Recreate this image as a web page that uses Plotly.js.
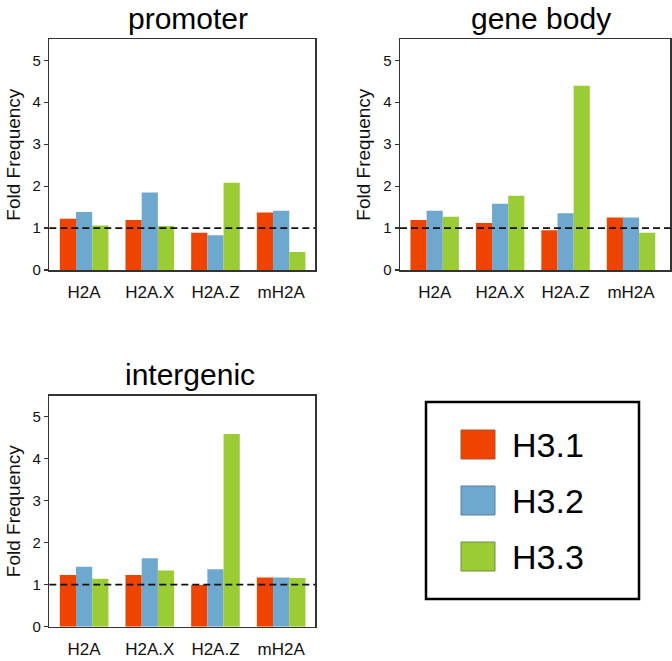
<!DOCTYPE html>
<html>
<head>
<meta charset="utf-8">
<script src="https://cdn.plot.ly/plotly-3.0.1.min.js"></script>
<style>html,body{margin:0;padding:0;background:#fff;}#chart{width:672px;height:661px;}</style>
</head>
<body>
<div id="chart"></div>
<script>
// ---- data ----
const categories = ['H2A', 'H2A.X', 'H2A.Z', 'mH2A'];
const seriesNames = ['H3.1', 'H3.2', 'H3.3'];
const panelTitles = ['promoter', 'gene body', 'intergenic'];
const yTickValues = [0, 1, 2, 3, 4, 5];
const referenceLevel = 1;

const promoterH31 = [1.22, 1.19, 0.89, 1.37];
const promoterH32 = [1.38, 1.85, 0.83, 1.41];
const promoterH33 = [1.06, 1.05, 2.08, 0.43];

const geneBodyH31 = [1.19, 1.12, 0.95, 1.25];
const geneBodyH32 = [1.41, 1.58, 1.35, 1.25];
const geneBodyH33 = [1.27, 1.77, 4.39, 0.89];

const intergenicH31 = [1.23, 1.23, 0.99, 1.17];
const intergenicH32 = [1.43, 1.63, 1.37, 1.17];
const intergenicH33 = [1.14, 1.34, 4.59, 1.16];

// ---- styling ----
const W = 672, H = 661;
const colors = ['#ee4400', '#6fa8cf', '#9bcc35'];
const swatchLines = ['#a8552e', '#5a7f99', '#6f8f3a'];
const FONT = 'Liberation Sans, Arial, Helvetica, sans-serif';
const px = x => x / W;
const py = y => 1 - y / H;

const panels = [
  {vals: [promoterH31, promoterH32, promoterH33], x: [49.3, 315.3], y: [39.3, 270], xr: [-0.53, 3.52], title: [187.5, 19]},
  {vals: [geneBodyH31, geneBodyH32, geneBodyH33], x: [400, 670.3], y: [39.3, 270], xr: [-0.53, 3.6], title: [541, 19]},
  {vals: [intergenicH31, intergenicH32, intergenicH33], x: [49.3, 315.3], y: [395.7, 626.7], xr: [-0.53, 3.52], title: [189.5, 374]}
];

const traces = [];
const layout = {
  width: W, height: H,
  margin: {l: 0, r: 0, t: 0, b: 0},
  paper_bgcolor: '#fff', plot_bgcolor: '#fff',
  showlegend: false,
  barmode: 'group', bargap: 0.26, bargroupgap: 0,
  font: {family: FONT, color: '#111'},
  shapes: [], annotations: []
};

panels.forEach((p, i) => {
  const n = i + 1;
  const xa = 'x' + (n === 1 ? '' : n), ya = 'y' + (n === 1 ? '' : n);
  p.vals.forEach((v, s) => {
    traces.push({
      type: 'bar', x: categories, y: v, name: seriesNames[s],
      xaxis: xa, yaxis: ya,
      marker: {color: colors[s], line: {width: 0}},
      hoverinfo: 'x+y+name'
    });
  });
  layout['xaxis' + (n === 1 ? '' : n)] = {
    domain: [px(p.x[0]), px(p.x[1])],
    anchor: ya, type: 'category', range: p.xr,
    showline: true, mirror: true, linecolor: '#333', linewidth: 1.5,
    ticks: '', showgrid: false, zeroline: false,
    tickfont: {size: 17, color: '#111', family: FONT},
    ticklabelstandoff: 6,
    fixedrange: true
  };
  layout['yaxis' + (n === 1 ? '' : n)] = {
    domain: [py(p.y[1]), py(p.y[0])],
    anchor: xa, range: [0, 5.5],
    tickvals: yTickValues, ticks: 'outside', ticklen: 4, tickwidth: 1.2, tickcolor: '#333',
    showline: true, mirror: true, linecolor: '#333', linewidth: 1.5,
    showgrid: false, zeroline: false,
    tickfont: {size: 15, color: '#111', family: FONT},
    title: {text: 'Fold Frequency', font: {size: 19, color: '#111', family: FONT}, standoff: 7},
    fixedrange: true
  };
  layout.shapes.push({
    type: 'line', xref: xa + ' domain', yref: ya,
    x0: 0, x1: 1, y0: referenceLevel, y1: referenceLevel,
    line: {color: '#111', width: 1.8, dash: '7px,4px'}
  });
  layout.annotations.push({
    text: panelTitles[i], xref: 'paper', yref: 'paper',
    x: px(p.title[0]), y: py(p.title[1]), xanchor: 'center', yanchor: 'middle',
    showarrow: false, font: {size: 30, color: '#000', family: FONT}
  });
});

// legend box
layout.shapes.push({
  type: 'rect', xref: 'paper', yref: 'paper',
  x0: px(426), x1: px(639), y0: py(599), y1: py(402),
  line: {color: '#000', width: 2.5}, fillcolor: 'rgba(0,0,0,0)'
});
const swatchTops = [430, 486, 542];
seriesNames.forEach((name, s) => {
  const t = swatchTops[s];
  layout.shapes.push({
    type: 'rect', xref: 'paper', yref: 'paper',
    x0: px(461), x1: px(495), y0: py(t + 29), y1: py(t),
    line: {color: swatchLines[s], width: 1}, fillcolor: colors[s]
  });
  layout.annotations.push({
    text: name, xref: 'paper', yref: 'paper',
    x: px(510), y: py(t + 15), xanchor: 'left', yanchor: 'middle',
    showarrow: false, font: {size: 34, color: '#000', family: FONT}
  });
});

Plotly.newPlot('chart', traces, layout, {displayModeBar: false, staticPlot: true});
</script>
</body>
</html>
